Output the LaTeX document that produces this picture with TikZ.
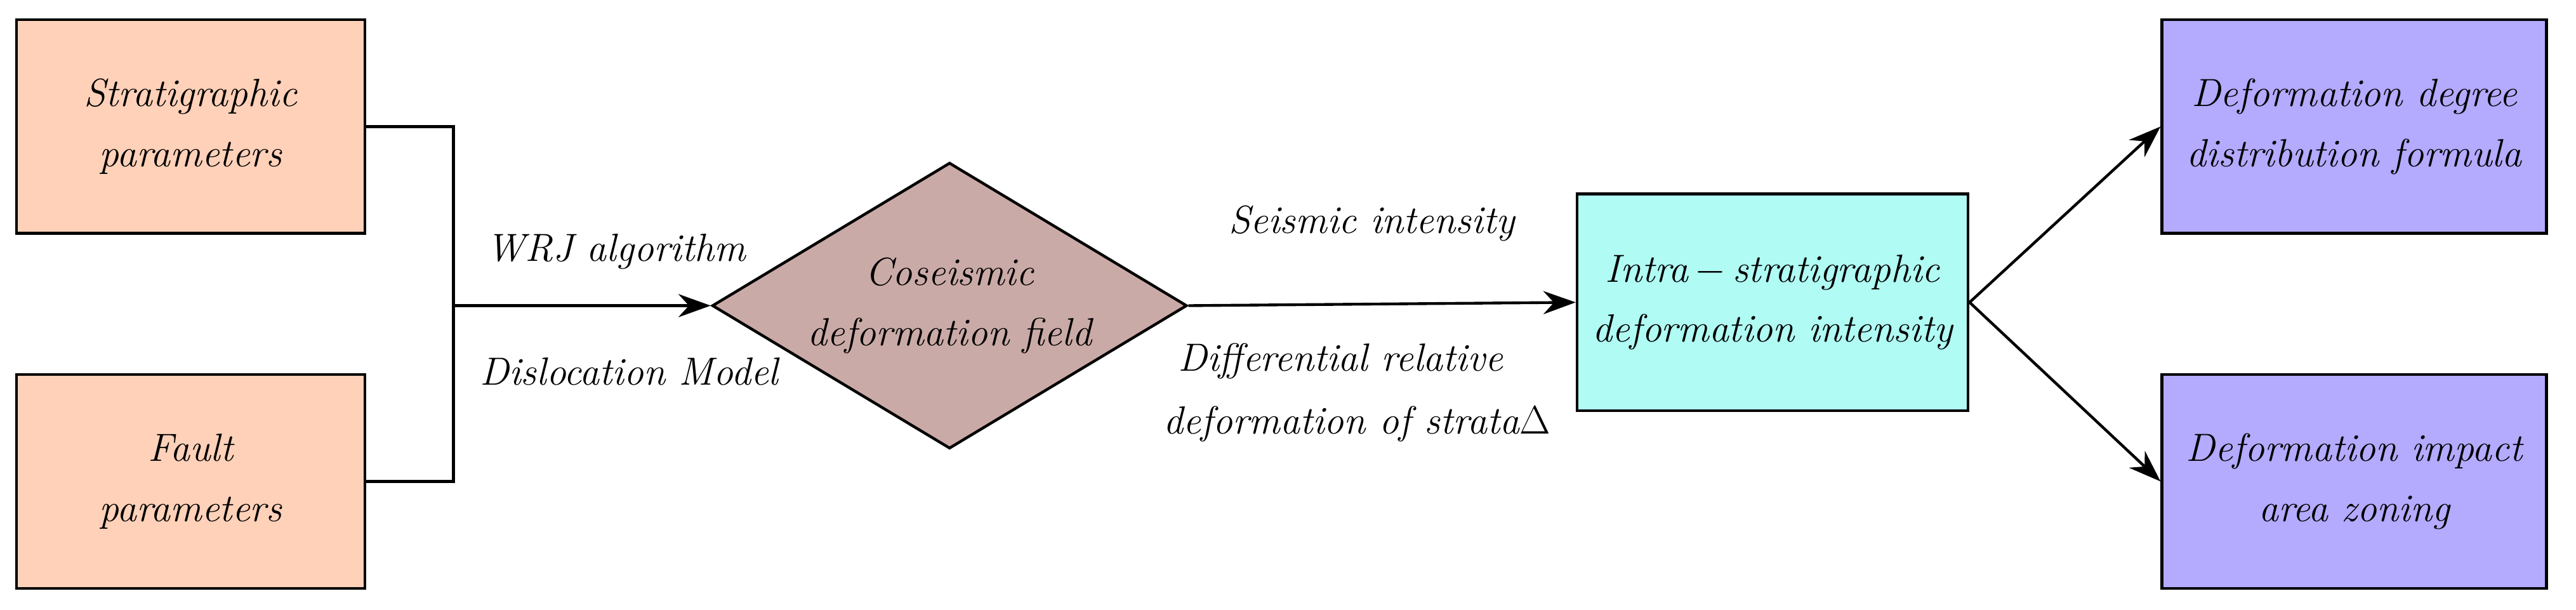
\documentclass[tikz,border=0pt]{standalone}
\usetikzlibrary{shapes.geometric,arrows.meta}
\definecolor{peach}{HTML}{FFD1B9}
\definecolor{rose}{HTML}{CAAAA7}
\definecolor{cyanb}{HTML}{B0FBF4}
\definecolor{purp}{HTML}{B4AAFE}
\begin{document}
\begin{tikzpicture}[x=0.025cm,y=-0.025cm,
  box/.style={draw,line width=1.2pt,minimum width=5.3cm,minimum height=3.25cm,align=center,font=\fontsize{17}{26}\selectfont\itshape},
  lab/.style={font=\fontsize{17}{21}\selectfont\itshape},
  arr/.style={-{Stealth[length=14pt,width=10pt]},line width=1.2pt}]
\useasboundingbox (0,0) rectangle (1568,371.2);
\node[box,fill=peach] (a) at (116,77) {Stratigraphic\\parameters};
\node[box,fill=peach] (b) at (116,293) {Fault\\parameters};
\node[diamond,draw,line width=1.2pt,fill=rose,minimum width=7.225cm,minimum height=4.35cm,inner sep=0pt,aspect=1.66,align=center,font=\fontsize{17}{26}\selectfont\itshape] (d) at (578,186) {Coseismic\\deformation field};
\node[box,fill=cyanb,minimum width=5.95cm,minimum height=3.3cm] (c) at (1079,184) {Intra\,$-$\,stratigraphic\\deformation intensity};
\node[box,fill=purp,minimum width=5.85cm] (e) at (1433,77) {Deformation degree\\distribution formula};
\node[box,fill=purp,minimum width=5.85cm] (f) at (1433,293) {Deformation impact\\area zoning};
\coordinate (j) at (276,186);
\draw[line width=1.2pt] (a.east) -| (276,293) -- (b.east);
\draw[arr] (j) -- (d.west);
\draw[arr] (d.east) -- (c.west);
\draw[arr] (c.east) -- (e.west);
\draw[arr] (c.east) -- (f.west);
\node[lab] (l1) at (375,153) {WRJ algorithm};
\node[lab] (l2) at (383,226) {Dislocation Model};
\node[lab] (l3) at (835,136) {Seismic intensity};
\node[lab] (l4) at (816,220) {Differential relative};
\node[lab] (l5) at (826,258) {deformation of strata$\Delta$};
\end{tikzpicture}
\end{document}
